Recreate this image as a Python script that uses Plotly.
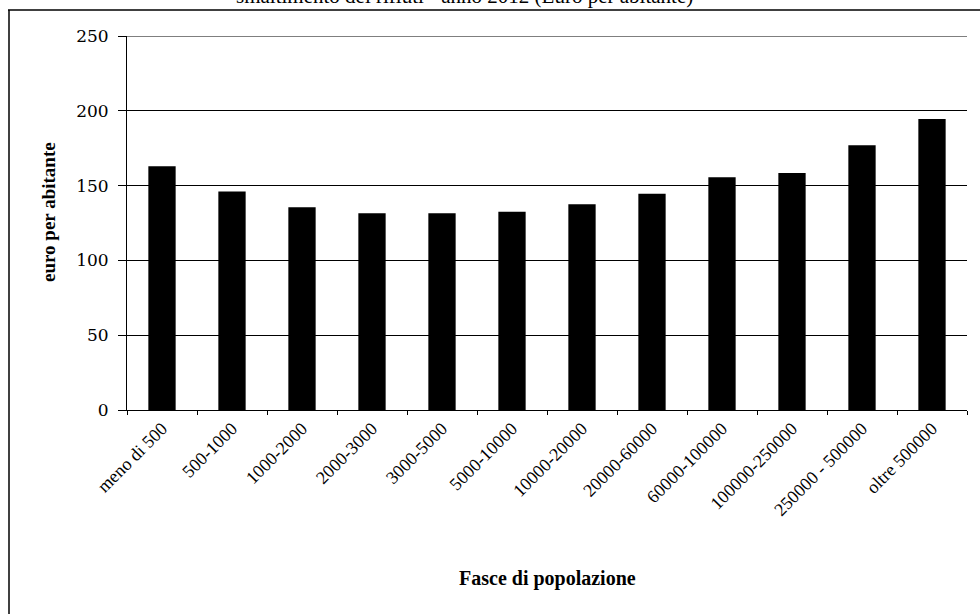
import plotly.graph_objects as go

categories = ["meno di 500", "500-1000", "1000-2000", "2000-3000", "3000-5000",
              "5000-10000", "10000-20000", "20000-60000", "60000-100000",
              "100000-250000", "250000 - 500000", "oltre 500000"]
values = [163, 146, 135.5, 131.5, 131.5, 132.5, 137.5, 144.5, 155.5, 158.5, 177, 194.5]
y_ticks = [0, 50, 100, 150, 200, 250]

W, H = 980, 614
L, R, T, B = 127, 13, 36, 204
pw, ph = W - L - R, H - T - B

def px(x):
    return (x - L) / pw

def py(y):
    return (H - B - y) / ph

serif = "Liberation Serif"
wide_serif = "DejaVu Serif"

fig = go.Figure(go.Bar(x=categories, y=values, marker=dict(color="black", line=dict(width=0))))

fig.update_layout(
    width=W, height=H,
    margin=dict(l=L, r=R, t=T, b=B),
    paper_bgcolor="white", plot_bgcolor="white",
    bargap=0.61,
    showlegend=False,
    font=dict(family=serif, size=15, color="black"),
    xaxis=dict(
        type="category", tickangle=-45, tickson="boundaries",
        ticks="outside", ticklen=4, tickcolor="black",
        showline=True, linecolor="black", linewidth=1,
        showgrid=False,
        tickfont=dict(family=serif, size=18, color="black"),
    ),
    yaxis=dict(
        range=[0, 250], tickvals=y_ticks,
        ticks="outside", ticklen=8, tickcolor="black",
        ticklabelstandoff=6,
        showline=True, linecolor="black", linewidth=1,
        showgrid=True, gridcolor="black", gridwidth=1,
        zeroline=False,
        tickfont=dict(family=wide_serif, size=17, color="black"),
    ),
    annotations=[
        dict(text="smaltimento dei rifiuti - anno 2012 (Euro per abitante)",
             xref="paper", yref="paper", x=px(464), y=py(10), xanchor="center", yanchor="bottom",
             showarrow=False, font=dict(family=serif, size=21, color="black")),
        dict(text="<b>Fasce di popolazione</b>",
             xref="paper", yref="paper", x=px(547), y=py(578), xanchor="center", yanchor="middle",
             showarrow=False, font=dict(family=serif, size=20, color="black")),
        dict(text="<b>euro per abitante</b>", textangle=-90,
             xref="paper", yref="paper", x=px(48), y=py(212), xanchor="center", yanchor="middle",
             showarrow=False, font=dict(family=serif, size=19, color="black")),
    ],
    shapes=[
        dict(type="line", xref="paper", yref="y", x0=0, x1=1, y0=y_ticks[-1], y1=y_ticks[-1],
             line=dict(color="black", width=1)),
        dict(type="line", xref="paper", yref="paper", x0=px(8), x1=px(980), y0=py(10), y1=py(10),
             line=dict(color="black", width=1.5)),
        dict(type="line", xref="paper", yref="paper", x0=px(9), x1=px(9), y0=py(10), y1=py(614),
             line=dict(color="black", width=1.5)),
    ],
)

fig.write_html("out.html", config={"displayModeBar": False},
               post_script="document.body.style.margin='0';document.body.style.overflow='hidden';")
